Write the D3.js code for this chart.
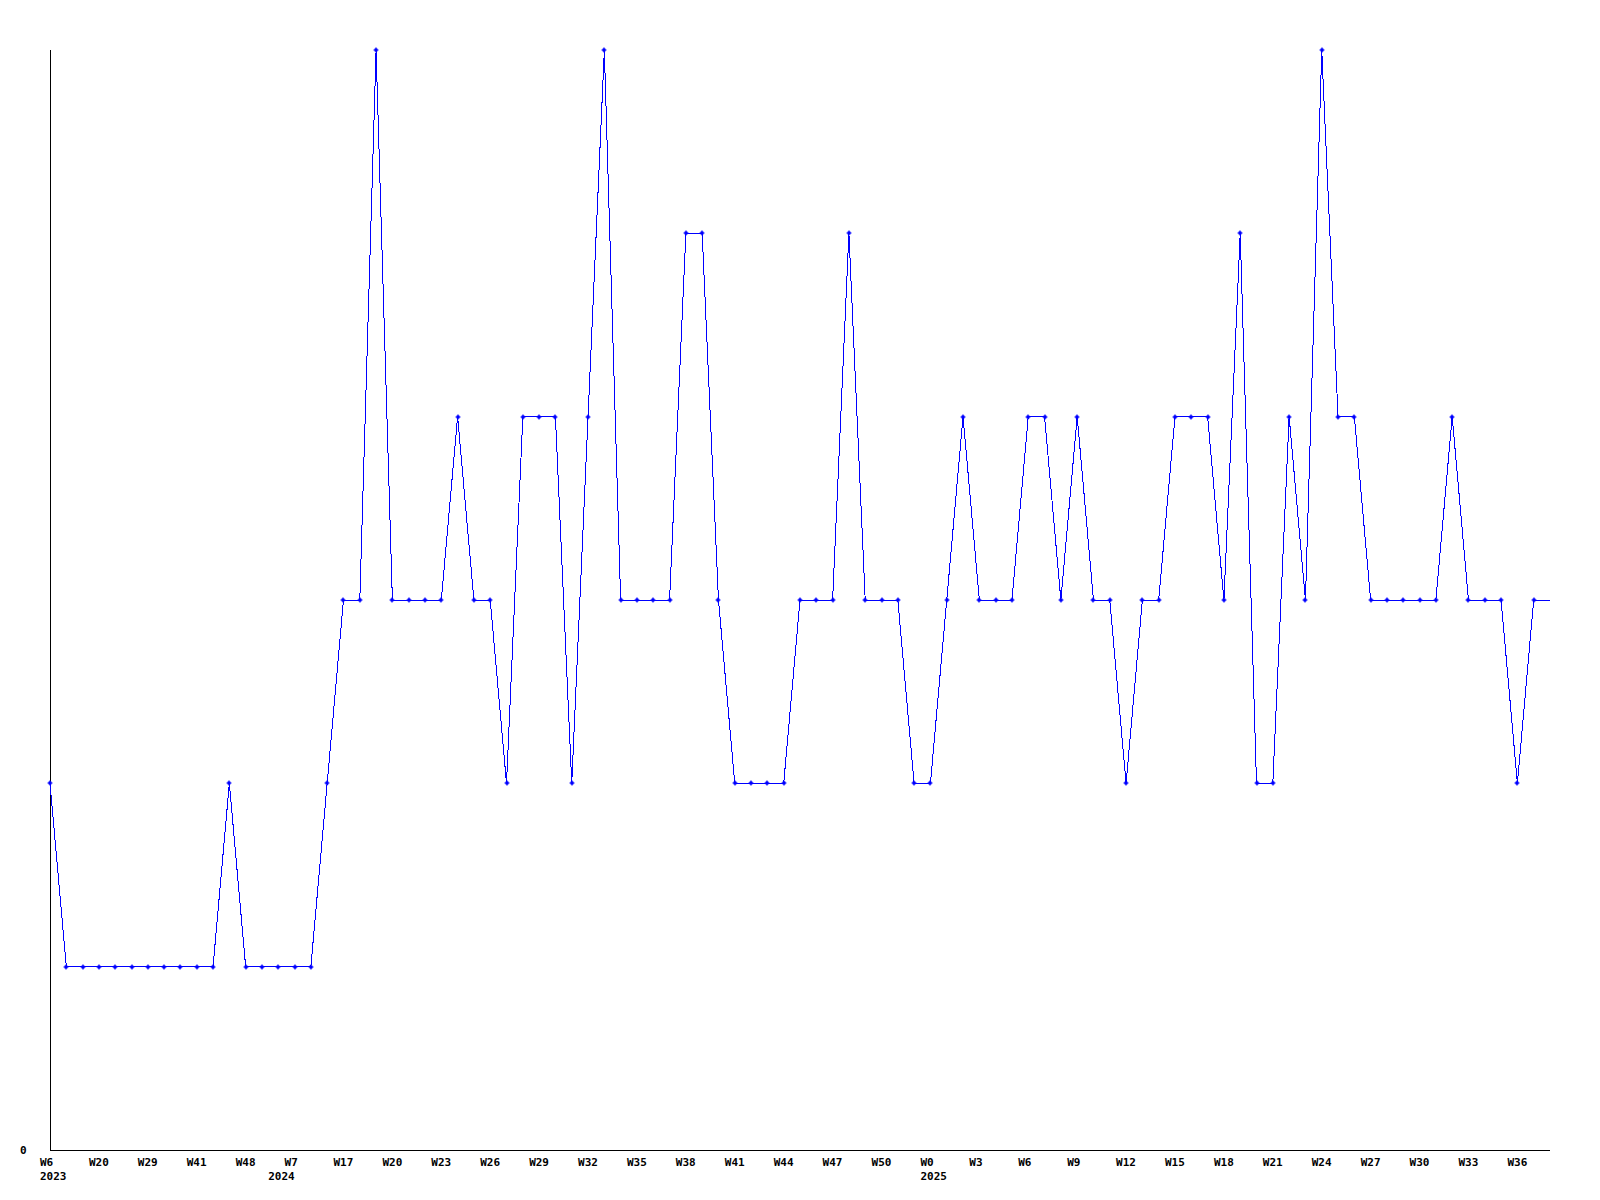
<!DOCTYPE html>
<html>
<head>
<meta charset="utf-8">
<script src="https://cdn.jsdelivr.net/npm/d3@7"></script>
<style>
  body { margin: 0; background: #fff; }
  text { font-family: "DejaVu Sans Mono", monospace; font-weight: bold; font-size: 11px; fill: #000; }
</style>
</head>
<body>
<div id="chart"></div>
<script>
var width = 1600,
    height = 1200,
    margin = { left: 50, top: 50, right: 50, bottom: 50 };

// one value per week point
var values = [
  2, 1, 1, 1, 1, 1, 1, 1, 1, 1, 1, 2, 1, 1, 1, 1, 1, 2, 3, 3,
  6, 3, 3, 3, 3, 4, 3, 3, 2, 4, 4, 4, 2, 4, 6, 3, 3, 3, 3, 5,
  5, 3, 2, 2, 2, 2, 3, 3, 3, 5, 3, 3, 3, 2, 2, 3, 4, 3, 3, 3,
  4, 4, 3, 4, 3, 3, 2, 3, 3, 4, 4, 4, 3, 5, 2, 2, 4, 3, 6, 4,
  4, 3, 3, 3, 3, 3, 4, 3, 3, 3, 2, 3, 3
];

// week labels shown every third point
var weekLabels = ["W6", "W20", "W29", "W41", "W48", "W7", "W17", "W20", "W23", "W26",
  "W29", "W32", "W35", "W38", "W41", "W44", "W47", "W50", "W0", "W3",
  "W6", "W9", "W12", "W15", "W18", "W21", "W24", "W27", "W30", "W33", "W36"];

// year labels and the point index where each year starts
var years = ["2023", "2024", "2025"];
var yearStart = [0, 14, 54];

var yMax = 6;

var svg = d3.select("#chart").append("svg")
    .attr("width", width)
    .attr("height", height);

var x = d3.scaleLinear()
    .domain([0, values.length - 1])
    .range([margin.left, width - margin.right]);

var y = d3.scaleLinear()
    .domain([0, yMax])
    .range([height - margin.bottom, margin.top]);

// axes
svg.append("line")
    .attr("x1", x(0) + 0.5).attr("x2", x(0) + 0.5)
    .attr("y1", y(yMax)).attr("y2", y(0) + 0.5)
    .attr("stroke", "#000");
svg.append("line")
    .attr("x1", x(0)).attr("x2", x(values.length - 1))
    .attr("y1", y(0) + 0.5).attr("y2", y(0) + 0.5)
    .attr("stroke", "#000");

svg.append("text")
    .attr("x", 20)
    .attr("y", y(0) + 4)
    .text("0");

var xl = svg.append("g");
xl.selectAll(".wk")
  .data(weekLabels)
  .enter().append("text")
    .attr("class", "wk")
    .attr("x", function(d, i) { return x(i * 3) - 10; })
    .attr("y", y(0) + 16)
    .text(function(d) { return d; });

xl.selectAll(".yr")
  .data(years)
  .enter().append("text")
    .attr("class", "yr")
    .attr("x", function(d, i) { return x(yearStart[i]) - 10; })
    .attr("y", y(0) + 30)
    .text(function(d) { return d; });

// the series
var line = d3.line()
    .x(function(d, i) { return x(i); })
    .y(function(d) { return y(d); });

svg.append("path")
    .datum(values)
    .attr("d", line)
    .attr("fill", "none")
    .attr("stroke", "#0000ff")
    .attr("stroke-width", 1)
    .attr("shape-rendering", "crispEdges");

// markers (the last point sits on the plot edge, drawn without one)
var pts = values.slice(0, -1);
var mk = svg.selectAll(".pt")
  .data(pts)
  .enter().append("g")
    .attr("class", "pt")
    .attr("transform", function(d, i) {
      return "translate(" + Math.round(x(i)) + "," + Math.round(y(d)) + ")";
    });

mk.append("path")
    .attr("d", "M-2.5,0H2.5M0,-2.5V2.5")
    .attr("stroke", "#0000ff")
    .attr("stroke-width", 1.2);
mk.append("rect")
    .attr("x", -1.5).attr("y", -1.5)
    .attr("width", 3).attr("height", 3)
    .attr("fill", "#0000ff");
</script>
</body>
</html>
